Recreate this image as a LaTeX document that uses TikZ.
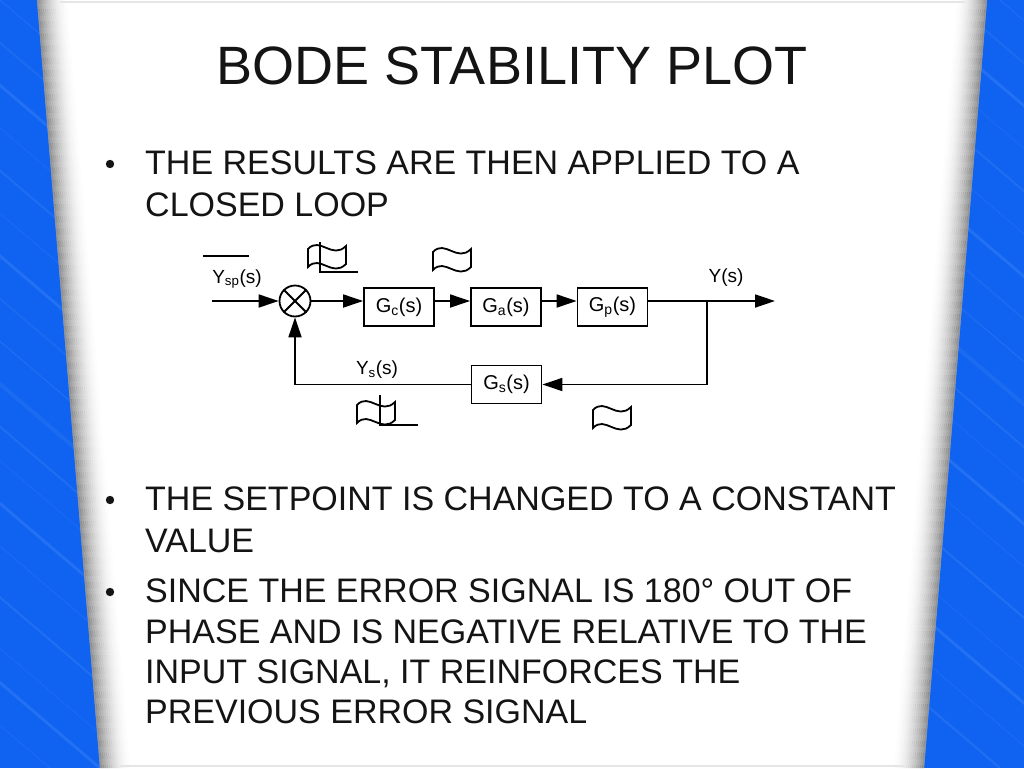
\documentclass[tikz,border=0pt]{standalone}
\usepackage{fontspec}
\setmainfont{Liberation Sans}
\usetikzlibrary{arrows.meta,calc}
\definecolor{bgblue}{RGB}{16,98,240}
\definecolor{streakblue}{RGB}{110,175,255}
\definecolor{inktext}{RGB}{20,20,20}
\tikzset{
  ink/.style={line width=1.8pt, draw=black},
  flow/.style={ink, -{Triangle[length=20pt,width=13pt]}},
  blk/.style={ink, rectangle, minimum width=70pt, minimum height=38pt, inner sep=0pt, font=\fontsize{20}{22}\selectfont},
  lbl/.style={inner sep=0pt, font=\fontsize{19}{21}\selectfont},
  bullettext/.style={anchor=base west, inner sep=0pt, text=inktext, font=\fontsize{34}{40}\selectfont},
  wavebox/.pic={
    \draw[line width=1.8pt] (0,0) .. controls (12,-13) and (24,11) .. (38,-3)
      -- (38,15) .. controls (24,29) and (12,5) .. (0,18) -- cycle;
  }
}
\begin{document}
\begin{tikzpicture}[x=1pt,y=-1pt]
\useasboundingbox (0,0) rectangle (1024,768);
% blue background
\fill[bgblue] (0,0) rectangle (1024,768);
\begin{scope}
  \clip (0,0) -- (40,0) -- (103,768) -- (0,768) -- cycle;
  \foreach \x/\o/\w in {-900/0.18/2,-850/0.12/1,-800/0.2/3,-760/0.1/1,-700/0.18/2,-640/0.12/1,-590/0.2/3,-540/0.1/1,-500/0.16/2,-450/0.12/4,-400/0.18/1,-350/0.1/2,-300/0.2/3,-250/0.12/1,-200/0.16/2,-150/0.1/1,-100/0.2/3,-50/0.12/2,0/0.15/1}
    \draw[streakblue, opacity=\o, line width=\w] (\x,0) -- ++(900,768);
\end{scope}
\begin{scope}
  \clip (984,0) -- (1024,0) -- (1024,768) -- (921,768) -- cycle;
  \foreach \x/\o/\w in {100/0.18/2,150/0.12/1,200/0.2/3,240/0.1/1,300/0.18/2,360/0.12/1,410/0.2/3,460/0.1/1,500/0.16/2,550/0.12/4,600/0.18/1,650/0.1/2,700/0.2/3,750/0.12/1,800/0.16/2,850/0.1/1,900/0.2/3,950/0.12/2,1000/0.15/1}
    \draw[streakblue, opacity=\o, line width=\w] (\x,0) -- ++(900,768);
\end{scope}
% white page
\fill[white] (37,0) -- (987,0) -- (924,768) -- (100,768) -- cycle;
% shadows along the page edges
\foreach \i in {0,...,15}{
  \pgfmathsetmacro\op{0.42*(1-\i/16)^2}
  \fill[black, opacity=\op] ({37+2*\i},0) -- ({39+2*\i},0) -- ({102+2*\i},768) -- ({100+2*\i},768) -- cycle;
  \fill[black, opacity=\op] ({987-2*\i},0) -- ({985-2*\i},0) -- ({922-2*\i},768) -- ({924-2*\i},768) -- cycle;
}
\draw[black!10, line width=1.5pt] (60,2) -- (965,2);
\draw[black!10, line width=1.5pt] (120,766) -- (905,766);

% title
\node[anchor=base, inner sep=0pt, text=inktext, font=\fontsize{54}{60}\selectfont] (title) at (512,84) {BODE STABILITY PLOT};

% bullets
\foreach \yy in {164,500,592}
  \fill[inktext] (110,\yy) circle (4.2);
\node[bullettext] (b1a) at (145,174) {THE RESULTS ARE THEN APPLIED TO A};
\node[bullettext] (b1b) at (145,216) {CLOSED LOOP};
\node[bullettext] (b2a) at (145,510) {THE SETPOINT IS CHANGED TO A CONSTANT};
\node[bullettext] (b2b) at (145,552) {VALUE};
\node[bullettext] (b3a) at (145,602) {SINCE THE ERROR SIGNAL IS 180° OUT OF};
\node[bullettext] (b3b) at (145,643) {PHASE AND IS NEGATIVE RELATIVE TO THE};
\node[bullettext] (b3c) at (145,683) {INPUT SIGNAL, IT REINFORCES THE};
\node[bullettext] (b3d) at (145,723) {PREVIOUS ERROR SIGNAL};

% block diagram
\node[ink, circle, minimum size=31pt, inner sep=0pt] (sum) at (295,301) {};
\draw[ink] (sum.north west) -- (sum.south east);
\draw[ink] (sum.north east) -- (sum.south west);
\node[blk] (gc) at (399,307) {G\textsubscript{c}(s)};
\node[blk] (ga) at (506,307) {G\textsubscript{a}(s)};
\node[blk] (gp) at (612.5,307) {G\textsubscript{p}(s)};
\node[blk] (gs) at (506.5,384.5) {G\textsubscript{s}(s)};
\coordinate (in) at (212,301);
\coordinate (out) at (775,301);
\coordinate (br) at (707,301);

\draw[flow] (in) -- (sum.west);
\draw[flow] (sum.east) -- (sum.east -| gc.west);
\draw[flow] (sum.east -| gc.east) -- (sum.east -| ga.west);
\draw[flow] (sum.east -| ga.east) -- (sum.east -| gp.west);
\draw[flow] (sum.east -| gp.east) -- (out);
\draw[flow] (br) |- (gs.east);
\draw[flow] (gs.west) -| (sum.south);

% labels
\node[lbl] (lysp) at (237,279) {Y\textsubscript{sp}(s)};
\draw[ink] (203,256) -- (249,256);
\node[lbl] (ly) at (726,278) {Y(s)};
\node[lbl] (lys) at (377,370) {Y\textsubscript{s}(s)};

% wave symbols
\pic at (308,249) {wavebox};
\draw[ink] (320,242) -- (320,272) -- (358,272);
\pic at (433,252) {wavebox};
\pic at (357,405) {wavebox};
\draw[ink] (380,395) -- (380,425) -- (418,425);
\pic at (593,410) {wavebox};
\end{tikzpicture}
\end{document}
